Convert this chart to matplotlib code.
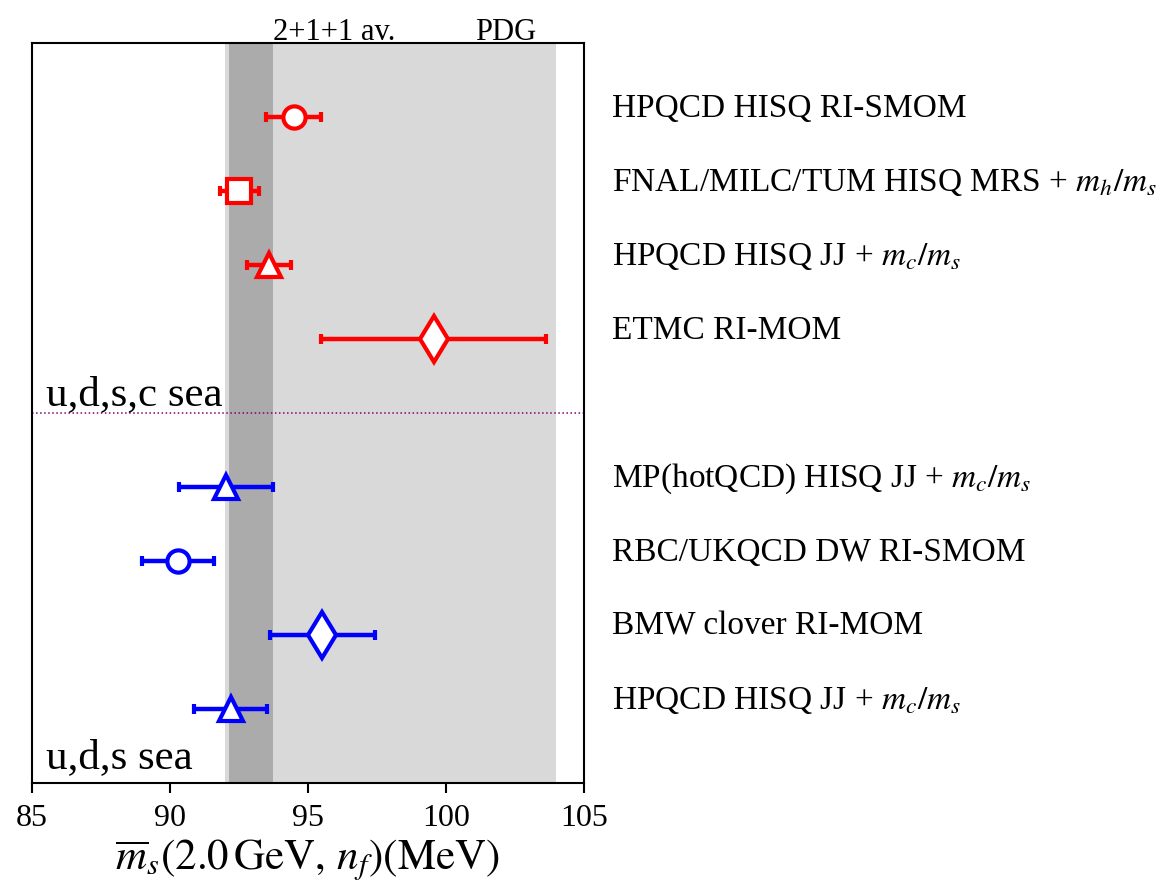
import numpy as np
import matplotlib
matplotlib.use("Agg")
import matplotlib.pyplot as plt

plt.rcParams['font.family'] = ['Liberation Serif', 'DejaVu Serif']
plt.rcParams['mathtext.fontset'] = 'stix'

# 2+1+1 flavour results (red), top to bottom
labels_211 = ["HPQCD HISQ RI-SMOM",
              r"FNAL/MILC/TUM HISQ MRS + $m_h/m_s$",
              r"HPQCD HISQ JJ + $m_c/m_s$",
              "ETMC RI-MOM"]
ms_211 = [94.49, 92.52, 93.6, 99.56]
err_211 = [1.0, 0.7, 0.8, 4.07]
mk_211 = ['o', 's', '^', 'd']
row_211 = [9, 8, 7, 6]

# 2+1 flavour results (blue), top to bottom
labels_21 = [r"MP(hotQCD) HISQ JJ + $m_c/m_s$",
             "RBC/UKQCD DW RI-SMOM",
             "BMW clover RI-MOM",
             r"HPQCD HISQ JJ + $m_c/m_s$"]
ms_21 = [92.02, 90.3, 95.52, 92.2]
err_21 = [1.7, 1.3, 1.9, 1.32]
mk_21 = ['^', 'o', 'd', '^']
row_21 = [4, 3, 2, 1]

# bands
pdg_lo, pdg_hi = 92.0, 104.0
av_lo, av_hi = 92.15, 93.75

msize = {'o': 16, 's': 17, '^': 17, 'd': 23}

fig = plt.figure(figsize=(11.76, 8.86), dpi=100)
ax = fig.add_axes([0.027, 0.1163, 0.4696, 0.8352])

ax.axvspan(pdg_lo, pdg_hi, color='#d9d9d9', lw=0, zorder=0)
ax.axvspan(av_lo, av_hi, color='#ababab', lw=0, zorder=1)
ax.axhline(5, color='purple', ls=':', lw=1.1, zorder=2)

for vals, errs, mks, rows, labs, col in [
        (ms_211, err_211, mk_211, row_211, labels_211, 'red'),
        (ms_21, err_21, mk_21, row_21, labels_21, 'blue')]:
    for v, e, m, r, lab in zip(vals, errs, mks, rows, labs):
        ax.errorbar(v, r, xerr=e, fmt=m, color=col, mfc='white', mec=col,
                    mew=3, ms=msize[m], elinewidth=3.2, capsize=3.5,
                    capthick=3.2, zorder=3)
        ax.text(1.05, r, lab, transform=ax.get_yaxis_transform(),
                fontsize=24, va='baseline', ha='left', clip_on=False)

ax.text(85.5, 5.1, "u,d,s,c sea", fontsize=31, va='baseline')
ax.text(85.5, 0.2, "u,d,s sea", fontsize=31, va='baseline')
ax.text(av_hi, 10.04, "2+1+1 av.", fontsize=22, va='baseline', clip_on=False)
ax.text(101.07, 10.04, "PDG", fontsize=22, va='baseline', clip_on=False)

ax.set_xlim(85, 105)
ax.set_ylim(0, 10)
ax.set_xticks([85, 90, 95, 100, 105])
ax.set_yticks([])
ax.tick_params(axis='x', labelsize=23, length=7.5, width=1.5, direction='out', pad=8)
for s in ax.spines.values():
    s.set_linewidth(1.5)
ax.set_xlabel(r"$\overline{m}_s(2.0\,\mathrm{GeV},\,n_f)(\mathrm{MeV})$", fontsize=31, labelpad=3)

fig.savefig("out.png", dpi=100)
